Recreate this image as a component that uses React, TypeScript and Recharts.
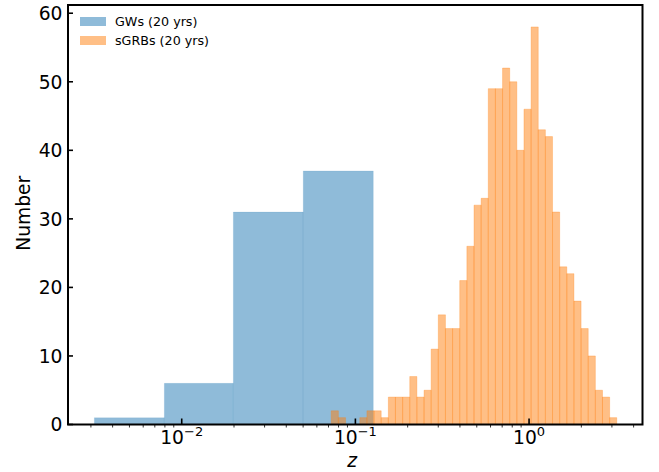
import { ComposedChart, ReferenceArea, XAxis, YAxis } from "recharts";

// GW histogram (20 yrs), log-spaced bins
const gwEdges = [0.00314, 0.00794, 0.01982, 0.0501, 0.1268];
const gwCounts = [1, 6, 31, 37];

// sGRB histogram (20 yrs), log-spaced bins
const grbEdges = [
  0.07261, 0.07982, 0.08775, 0.09645, 0.106, 0.1165, 0.1281, 0.1408, 0.1548,
  0.1701, 0.1871, 0.2056, 0.226, 0.2485, 0.2731, 0.3002, 0.33, 0.3628, 0.3988,
  0.4384, 0.482, 0.5298, 0.5824, 0.6402, 0.7037, 0.7736, 0.8504, 0.9348,
  1.0275, 1.1295, 1.2417, 1.3649, 1.5004, 1.6494, 1.8131, 1.993, 2.1909,
  2.4084, 2.6475, 2.9103, 3.1989,
];
const grbCounts = [
  2, 1, 0, 0, 1, 2, 2, 1, 4, 4, 4, 7, 4, 5, 11, 16, 14, 14, 21, 26, 32, 33, 49,
  49, 52, 50, 40, 46, 58, 43, 42, 31, 23, 22, 18, 14, 10, 5, 4, 1,
];

const majorTicks = [0.01, 0.1, 1];
const majorExponents = ["\u22122", "\u22121", "0"];
const minorTicks = [
  0.003, 0.004, 0.005, 0.006, 0.007, 0.008, 0.009, 0.02, 0.03, 0.04, 0.05,
  0.06, 0.07, 0.08, 0.09, 0.2, 0.3, 0.4, 0.5, 0.6, 0.7, 0.8, 0.9, 2, 3, 4,
];
const yTicks = [0, 10, 20, 30, 40, 50, 60];

const X_DOMAIN: [number, number] = [0.002214, 4.5];
const Y_MAX = 61.2;

const BLUE = "#1f77b4";
const ORANGE = "#ff7f0e";
const FONT = "DejaVu Sans";

const toBins = (edges: number[], counts: number[]) =>
  counts
    .map((c, i) => ({ x1: edges[i], x2: edges[i + 1], count: c }))
    .filter((b) => b.count > 0);

const gwBins = toBins(gwEdges, gwCounts);
const grbBins = toBins(grbEdges, grbCounts);

function XTick(props: any) {
  const { x, y, payload } = props;
  const i = majorTicks.indexOf(payload.value);
  if (i < 0) {
    return <line x1={x} x2={x} y1={y} y2={y + 3} stroke="#000" strokeWidth={0.8} />;
  }
  return (
    <g>
      <line x1={x} x2={x} y1={y} y2={y - 6} stroke="#000" strokeWidth={1.6} />
      <text
        x={x}
        y={y + 19.5}
        textAnchor="middle"
        fontSize={18.7}
        fontFamily={FONT}
        fill="#000"
      >
        <tspan>10</tspan>
        <tspan dy={-8} fontSize={13}>
          {majorExponents[i]}
        </tspan>
      </text>
    </g>
  );
}

function YTick(props: any) {
  const { x, y, payload } = props;
  return (
    <g>
      <line x1={x} x2={x + 5} y1={y} y2={y} stroke="#000" strokeWidth={1.6} />
      <text
        x={x - 5.5}
        y={y}
        dy="0.36em"
        textAnchor="end"
        fontSize={18.7}
        fontFamily={FONT}
        fill="#000"
      >
        {payload.value}
      </text>
    </g>
  );
}

export default function App() {
  return (
    <div
      style={{
        position: "fixed",
        left: 0,
        top: 0,
        width: 659,
        height: 472,
        background: "#fff",
      }}
    >
      <ComposedChart
        width={659}
        height={472}
        margin={{ top: 5, right: 16.5, bottom: 0, left: 0 }}
      >
        <XAxis
          dataKey="x"
          type="number"
          scale="log"
          domain={X_DOMAIN}
          allowDataOverflow
          ticks={[...minorTicks, ...majorTicks].sort((a, b) => a - b)}
          interval={0}
          tick={<XTick />}
          tickLine={false}
          axisLine={false}
          tickSize={0}
          tickMargin={0}
          height={47.5}
          label={(p: any) => {
            const vb = p.viewBox;
            return (
              <text
                x={vb.x + vb.width / 2 - 3}
                y={467}
                textAnchor="middle"
                fontSize={18.7}
                fontStyle="italic"
                fontFamily={FONT}
                fill="#000"
              >
                z
              </text>
            );
          }}
        />
        <YAxis
          type="number"
          domain={[0, Y_MAX]}
          allowDataOverflow
          ticks={yTicks}
          interval={0}
          tick={<YTick />}
          tickLine={false}
          axisLine={false}
          tickSize={0}
          tickMargin={0}
          width={68}
          label={(p: any) => {
            const vb = p.viewBox;
            const cy = vb.y + vb.height / 2 - 1.5;
            return (
              <text
                transform={`translate(30, ${cy}) rotate(-90)`}
                textAnchor="middle"
                fontSize={18.7}
                fontFamily={FONT}
                fill="#000"
              >
                Number
              </text>
            );
          }}
        />
        {gwBins.map((b, i) => (
          <ReferenceArea
            key={`gw-${i}`}
            x1={b.x1}
            x2={b.x2}
            y1={0}
            y2={b.count}
            fill={BLUE}
            fillOpacity={0.5}
            stroke={BLUE}
            strokeOpacity={0.12}
            strokeWidth={0.8}
            ifOverflow="visible"
          />
        ))}
        {grbBins.map((b, i) => (
          <ReferenceArea
            key={`grb-${i}`}
            x1={b.x1}
            x2={b.x2}
            y1={0}
            y2={b.count}
            fill={ORANGE}
            fillOpacity={0.5}
            stroke={ORANGE}
            strokeOpacity={0.35}
            strokeWidth={0.8}
            ifOverflow="visible"
          />
        ))}
        <ReferenceArea
          x1={X_DOMAIN[0]}
          x2={X_DOMAIN[1]}
          y1={0}
          y2={Y_MAX}
          fill="none"
          stroke="#000"
          strokeWidth={2}
          ifOverflow="visible"
        />
      </ComposedChart>
      <div
        style={{
          position: "absolute",
          left: 80,
          top: 12,
          fontFamily: FONT,
          fontSize: 12.7,
          color: "#000",
          lineHeight: "19px",
        }}
      >
        {[
          { name: "GWs (20 yrs)", color: BLUE },
          { name: "sGRBs (20 yrs)", color: ORANGE },
        ].map((item) => (
          <div key={item.name} style={{ display: "flex", alignItems: "center", height: 19 }}>
            <span
              style={{
                display: "inline-block",
                width: 26,
                height: 9.5,
                background: item.color,
                opacity: 0.5,
                marginRight: 9,
              }}
            />
            <span>{item.name}</span>
          </div>
        ))}
      </div>
    </div>
  );
}
